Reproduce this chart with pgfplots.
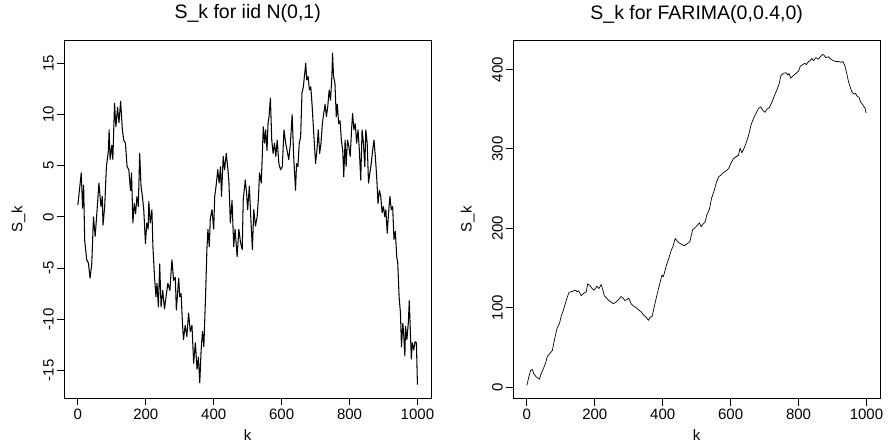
\documentclass[border=0pt]{standalone}
\usepackage{pgfplots}
\pgfplotsset{compat=1.18}
\usepackage{fontspec}
\setmainfont{Liberation Sans}
\begin{document}
\begin{tikzpicture}[x=1pt,y=1pt]
\pgfplotsset{
  rstyle/.style={
    scale only axis, width=366.7pt, height=358.3pt, anchor=south west,
    axis line style={line width=0.8pt, black},
    xmin=-39.96, xmax=1039.96, xtick={0,200,...,1000},
    tick align=outside, major tick length=7pt, tick pos=left,
    tick style={black, line width=0.8pt},
    /pgf/number format/assume math mode=true,
    /pgf/number format/1000 sep={},
    ticklabel style={font=\fontsize{15}{15}\selectfont},
    yticklabel style={rotate=90, anchor=south},
    xlabel={k}, ylabel={S\_k},
    label style={font=\fontsize{15}{15}\selectfont},
    xlabel style={at={(axis description cs:0.5,-0.1183)}, anchor=base},
    ylabel style={at={(axis description cs:-0.114,0.5)}, anchor=base},
    title style={font=\fontsize{19.5}{20}\selectfont, at={(axis description cs:0.5,1.0419)}, anchor=base},
    every axis plot/.append style={black, no marks, line join=round},
  }
}
\path (0pt,0pt) rectangle (889pt,445pt);
\begin{axis}[rstyle, at={(64.3pt,46.7pt)}, ymin=-17.73, ymax=17.28,
  ytick={-15,-10,...,15}, title={S\_k for iid N(0,1)}]
\addplot[line width=1.05pt] coordinates {
(0,1.17)(10,4.3)(14,0.85)(17,3.1)(20,-2.25)(26,-4.2)(31,-4.5)(36,-6.0)(41,-4.5)(46,0)
(51,-1.9)(56,0.4)(62,3.3)(68,1.0)(72,2.0)(74,-0.8)(79,1.0)(84,4.9)(90,6.5)(92,8.5)
(95,5.6)(100,7.0)(103,5.6)(108,11.1)(112,8.8)(117,10.7)(121,9.2)(126,11.3)(131,8.5)(135,7.5)
(140,7.2)(145,4.9)(150,4.6)(155,2.6)(158,4.3)(162,-0.6)(166,1.3)(170,0.3)(174,2.0)(178,1.0)
(182,6.2)(186,3.0)(190,2.0)(194,0.7)(199,-2.6)(203,-0.6)(207,-1.2)(209,1.5)(213,-0.6)(218,0.7)
(221,-2.9)(226,-6.0)(230,-7.8)(233,-6.5)(237,-8.8)(241,-4.6)(245,-8.8)(250,-7.2)(255,-9.0)(261,-7.5)
(265,-6.5)(271,-7.2)(277,-4.2)(282,-6.2)(287,-5.9)(290,-9.1)(297,-6.0)(300,-7.8)(304,-7.5)(308,-10.4)
(311,-12.0)(316,-10.6)(321,-11.7)(326,-9.4)(331,-11.2)(336,-10.6)(341,-14.3)(346,-12.3)(351,-14.9)(355,-13.7)
(359,-16.2)(363,-13.0)(367,-11.2)(371,-12.7)(376,-7.8)(380,-3.2)(383,-1.2)(387,-2.9)(390,-0.2)(395,0.7)
(400,-1.2)(403,2.0)(407,3.0)(412,4.6)(416,3.3)(420,4.9)(423,2.0)(428,5.9)(432,4.6)(437,6.2)
(442,4.6)(445,3.3)(449,-0.6)(454,1.6)(459,-2.9)(463,-1.2)(469,-3.9)(474,-1.2)(479,-2.5)(484,-3.2)
(487,1.66)(493,3.6)(497,2.3)(500,0.7)(505,3.0)(510,-0.6)(514,-3.2)(518,0.7)(523,-0.9)(528,0.0)
(532,2.0)(535,4.3)(540,3.3)(543,5.9)(546,8.8)(550,7.2)(553,8.5)(557,6.5)(560,9.1)(563,9.8)
(567,11.6)(571,7.5)(575,6.2)(579,7.2)(583,5.9)(587,7.5)(592,5.2)(597,4.6)(602,4.9)(607,8.5)
(612,7.2)(616,6.5)(621,5.6)(626,7.2)(631,10.0)(636,5.6)(641,2.6)(644,5.2)(648,4.9)(652,7.2)
(656,7.8)(660,12.1)(664,12.7)(668,14.0)(671,15.0)(674,13.4)(678,13.7)(682,12.4)(686,12.7)(690,10.8)
(694,8.5)(697,6.9)(700,5.2)(704,6.5)(708,8.5)(712,6.2)(716,7.2)(720,9.1)(724,10.1)(728,11.0)
(732,9.8)(736,10.8)(740,12.4)(744,11.4)(748,13.7)(750,16.0)(753,13.7)(757,13.1)(761,9.8)(764,11.0)
(768,9.1)(772,9.4)(776,7.5)(780,6.5)(783,3.9)(787,7.5)(790,4.9)(794,7.5)(798,6.9)(802,5.9)
(806,8.5)(809,10.1)(813,8.5)(817,9.1)(821,7.2)(825,8.5)(829,6.5)(833,3.6)(837,8.5)(841,7.2)
(845,4.9)(848,8.5)(852,7.2)(856,3.3)(860,4.3)(864,5.2)(868,6.5)(872,7.5)(876,5.9)(880,3.9)
(884,1.3)(888,2.6)(892,2.0)(896,0.4)(900,1.0)(904,0.0)(907,0.7)(911,-1.6)(915,0.4)(919,2.0)
(923,0.7)(927,1.0)(931,-2.2)(935,-1.4)(939,-3.9)(942,-4.5)(946,-7.8)(950,-9.4)(953,-12.7)(957,-10.4)
(960,-11.7)(963,-13.6)(965,-10.7)(969,-12.0)(973,-10.4)(976,-8.2)(979,-11.0)(982,-13.9)(985,-12.3)(989,-13.0)
(993,-12.2)(997,-12.3)(1000,-16.4)
};
\end{axis}
\begin{axis}[rstyle, at={(513.3pt,46.5pt)}, ymin=-14.5, ymax=436.9,
  ytick={0,100,...,400}, title={S\_k for FARIMA(0,0.4,0)}]
\addplot[line width=0.7pt] coordinates {
(0,2)(6,13)(11,21)(16,22)(20,17)(27,13)(37,9.7)(42,17)(49,23.5)(55,30)
(60,38)(67,42)(75,46)(79,55)(84,65)(89,74)(96,80)(101,89)(107,96)(113,105)
(118,112)(124,119)(130,120)(137,121)(143,122)(148,120)(153,121)(160,115)(167,118)(175,120)
(179,130)(186,128)(192,124)(199,122)(206,127)(212,124)(219,129)(224,122)(228,115)(235,112)
(241,109)(248,107)(255,105)(263,107)(270,110)(277,114)(284,112)(288,109)(294,110)(300,112)
(307,105)(314,102)(322,100)(329,97)(336,95)(343,91)(351,88)(358,84)(363,88)(369,89)
(375,101)(382,114)(390,128)(398,141)(402,139)(410,152)(418,162)(425,172)(430,177)(437,187)
(444,183)(454,180)(464,178)(474,181)(480,183)(488,198)(496,201)(503,204)(508,207)(513,202)
(518,205)(525,208)(530,217)(537,223)(544,238)(552,248)(559,259)(565,265)(572,267)(578,270)
(586,272)(594,275)(601,282)(609,288)(616,290)(623,292)(628,301)(633,295)(640,301)(647,309)
(653,317)(660,330)(667,338)(675,345)(682,351)(689,353)(694,349)(701,346)(707,350)(714,352)
(722,359)(728,366)(736,374)(743,382)(748,392)(755,395)(763,396)(769,393)(772,395)(777,389)
(784,392)(792,395)(800,398)(805,404)(812,406)(819,408)(823,406)(829,410)(834,411)(839,414)
(844,411)(851,415)(858,413)(864,416)(871,419)(875,418)(880,415)(888,416)(895,413)(903,411)
(910,410)(918,410)(924,409)(931,410)(937,404)(942,395)(947,385)(952,378)(957,372)(964,369)
(968,370)(973,366)(978,365)(983,359)(990,355)(996,351)(999,345)
};
\end{axis}
\end{tikzpicture}
\end{document}
